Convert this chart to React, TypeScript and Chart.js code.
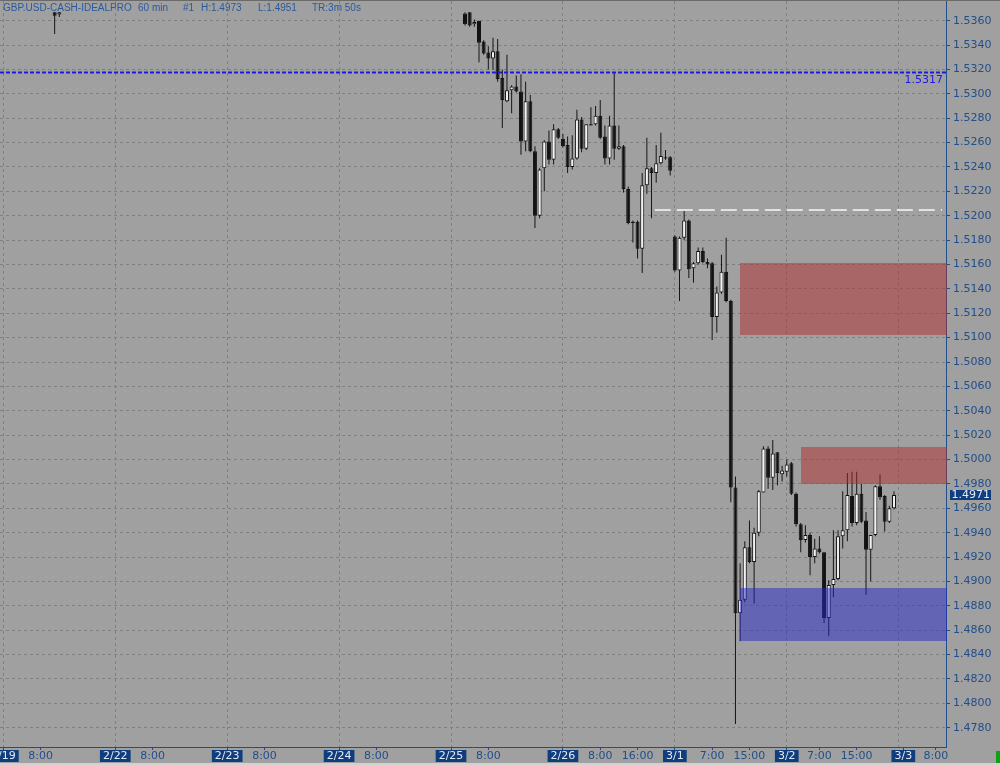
import React, { useEffect, useRef } from "react";
import { Chart, registerables } from "chart.js";

Chart.register(...registerables);

// ---- data (hourly bars, x = bar index on the time axis) ----
const candleIdx = [
  12, 13,
  100, 101, 102, 103, 104, 105, 106, 107, 108, 109,
  110, 111, 112, 113, 114, 115, 116, 117, 118, 119,
  120, 121, 122, 123, 124, 125, 126, 127, 128, 129,
  130, 131, 132, 133, 134, 135, 136, 137, 138, 139,
  140, 141, 142, 143, 144, 145, 146, 147, 148, 149,
  150, 151, 152, 153, 154, 155, 156, 157, 158, 159,
  160, 161, 162, 163, 164, 165, 166, 167, 168, 169,
  170, 171, 172, 173, 174, 175, 176, 177, 178, 179,
  180, 181, 182, 183, 184, 185, 186, 187, 188, 189,
  190, 191, 192,
];
const openP = [
  1.5367, 1.5365,
  1.5366, 1.5367, 1.5357, 1.5360, 1.5343, 1.5334, 1.5329, 1.5335, 1.5313, 1.5294,
  1.5303, 1.5306, 1.5302, 1.5261, 1.5294, 1.5253, 1.5200, 1.5239, 1.5261, 1.5246,
  1.5271, 1.5263, 1.5258, 1.5240, 1.5247, 1.5279, 1.5255, 1.5274, 1.5275, 1.5282,
  1.5265, 1.5247, 1.5274, 1.5255, 1.5257, 1.5222, 1.5195, 1.5195, 1.5173, 1.5225,
  1.5239, 1.5235, 1.5243, 1.5247, 1.5248, 1.5183, 1.5155, 1.5182, 1.5196, 1.5157,
  1.5161, 1.5171, 1.5162, 1.5161, 1.5117, 1.5137, 1.5154, 1.5130, 1.4977, 1.4874,
  1.4885, 1.4928, 1.4916, 1.4940, 1.4973, 1.5009, 1.4985, 1.5006, 1.4988, 1.4990,
  1.4997, 1.4972, 1.4947, 1.4934, 1.4938, 1.4920, 1.4927, 1.4924, 1.4870, 1.4897,
  1.4902, 1.4937, 1.4942, 1.4970, 1.4948, 1.4972, 1.4950, 1.4926, 1.4938, 1.4978,
  1.4970, 1.4949, 1.4960,
];
const highP = [
  1.5367, 1.5367,
  1.5367, 1.5367, 1.5361, 1.5360, 1.5344, 1.5339, 1.5346, 1.5345, 1.5320, 1.5332,
  1.5307, 1.5315, 1.5316, 1.5310, 1.5299, 1.5257, 1.5239, 1.5262, 1.5270, 1.5275,
  1.5272, 1.5267, 1.5265, 1.5266, 1.5287, 1.5281, 1.5275, 1.5289, 1.5290, 1.5295,
  1.5274, 1.5282, 1.5317, 1.5274, 1.5258, 1.5224, 1.5196, 1.5196, 1.5235, 1.5264,
  1.5240, 1.5258, 1.5268, 1.5254, 1.5249, 1.5184, 1.5183, 1.5205, 1.5197, 1.5162,
  1.5174, 1.5174, 1.5165, 1.5162, 1.5142, 1.5168, 1.5182, 1.5131, 1.4986, 1.4915,
  1.4933, 1.4950, 1.4944, 1.4975, 1.5011, 1.5011, 1.5016, 1.5006, 1.4995, 1.5000,
  1.4998, 1.4973, 1.4948, 1.4946, 1.4940, 1.4935, 1.4937, 1.4924, 1.4901, 1.4942,
  1.4942, 1.4974, 1.4989, 1.4990, 1.4990, 1.4980, 1.4957, 1.4938, 1.4979, 1.4988,
  1.4971, 1.4962, 1.4974,
];
const lowP = [
  1.5349, 1.5363,
  1.5356, 1.5355, 1.5355, 1.5326, 1.5332, 1.5320, 1.5320, 1.5310, 1.5272, 1.5293,
  1.5284, 1.5301, 1.5250, 1.5253, 1.5252, 1.5190, 1.5198, 1.5220, 1.5242, 1.5242,
  1.5263, 1.5256, 1.5235, 1.5238, 1.5246, 1.5252, 1.5254, 1.5274, 1.5274, 1.5263,
  1.5242, 1.5242, 1.5246, 1.5254, 1.5219, 1.5193, 1.5178, 1.5165, 1.5153, 1.5218,
  1.5198, 1.5227, 1.5242, 1.5246, 1.5233, 1.5154, 1.5130, 1.5180, 1.5149, 1.5145,
  1.5160, 1.5161, 1.5157, 1.5098, 1.5104, 1.5136, 1.5129, 1.4965, 1.4783, 1.4851,
  1.4883, 1.4915, 1.4882, 1.4937, 1.4973, 1.4976, 1.4975, 1.4979, 1.4982, 1.4986,
  1.4971, 1.4945, 1.4924, 1.4932, 1.4905, 1.4915, 1.4923, 1.4866, 1.4855, 1.4887,
  1.4901, 1.4927, 1.4933, 1.4945, 1.4946, 1.4948, 1.4889, 1.4900, 1.4937, 1.4967,
  1.4941, 1.4948, 1.4959,
];
const closeP = [
  1.5364, 1.5367,
  1.5357, 1.5356, 1.5359, 1.5342, 1.5333, 1.5329, 1.5335, 1.5312, 1.5295, 1.5303,
  1.5306, 1.5302, 1.5261, 1.5294, 1.5253, 1.5200, 1.5238, 1.5261, 1.5246, 1.5271,
  1.5264, 1.5257, 1.5240, 1.5247, 1.5279, 1.5255, 1.5275, 1.5275, 1.5282, 1.5264,
  1.5247, 1.5274, 1.5255, 1.5257, 1.5222, 1.5194, 1.5194, 1.5173, 1.5225, 1.5239,
  1.5235, 1.5243, 1.5249, 1.5248, 1.5237, 1.5155, 1.5182, 1.5196, 1.5156, 1.5161,
  1.5171, 1.5162, 1.5160, 1.5117, 1.5137, 1.5154, 1.5130, 1.4977, 1.4874, 1.4885,
  1.4928, 1.4916, 1.4940, 1.4974, 1.5009, 1.4985, 1.5005, 1.4989, 1.4991, 1.4996,
  1.4972, 1.4947, 1.4934, 1.4938, 1.4920, 1.4927, 1.4924, 1.4870, 1.4897, 1.4902,
  1.4937, 1.4942, 1.4971, 1.4948, 1.4972, 1.4949, 1.4926, 1.4938, 1.4978, 1.4969,
  1.4949, 1.4960, 1.4971,
];

const yTicks = [
  1.478, 1.48, 1.482, 1.484, 1.486, 1.488, 1.49, 1.492, 1.494, 1.496,
  1.498, 1.5, 1.502, 1.504, 1.506, 1.508, 1.51, 1.512, 1.514, 1.516,
  1.518, 1.52, 1.522, 1.524, 1.526, 1.528, 1.53, 1.532, 1.534, 1.536,
];
const xTickIdx = [1, 9, 25, 33, 49, 57, 73, 81, 97, 105, 121, 129, 137, 145, 153, 161, 169, 176, 184, 193, 194, 201];
const xTickLabels = ["2/19", "8:00", "2/22", "8:00", "2/23", "8:00", "2/24", "8:00", "2/25", "8:00", "2/26", "8:00", "16:00", "3/1", "7:00", "15:00", "3/2", "7:00", "15:00", "", "3/3", "8:00"];
const dayLineIdx = [1, 25, 49, 73, 97, 121, 145, 169, 193];

// supply / demand zones
const zoneStart = [159, 172, 159];
const zoneHigh = [1.5161, 1.501, 1.4895];
const zoneLow = [1.5102, 1.498, 1.4851];
const zoneKind = ["supply", "supply", "demand"];

// horizontal levels
const levelValue = [1.5317, 1.5205];
const levelStart = [0.28, 140.7];
const levelKind = ["alert", "marker"];

const titleParts = ["GBP.USD-CASH-IDEALPRO", "60 min", "#1", "H:1.4973", "L:1.4951", "TR:3m 50s"];
const lastPrice = 1.4971;

// ---- view ----
const X_MIN = 0.28;
const X_MAX = 203.15;
const Y_MIN = 1.476418;
const Y_MAX = 1.537616;

const BG = "#a0a0a0";
const GRID = "#808080";
const AXIS = "#1f4e8c";
const LABEL = "#224e8a";
const FONT = "DejaVu Sans";
const TITLE_X = [3, 138, 183, 201, 258, 312];

const labelOf = (v: number) => {
  const i = xTickIdx.indexOf(v);
  return i >= 0 ? xTickLabels[i] : "";
};
const isDate = (v: number) => labelOf(v).indexOf("/") >= 0;

const decorPlugin = {
  id: "decor",
  beforeDraw(chart: any) {
    const { ctx, width, height } = chart;
    ctx.save();
    ctx.fillStyle = BG;
    ctx.fillRect(0, 0, width, height);
    ctx.restore();
  },
  afterDatasetsDraw(chart: any) {
    const { ctx, chartArea: ca, scales } = chart;
    const xs = scales.x;
    const ys = scales.y;
    ctx.save();
    ctx.beginPath();
    ctx.rect(ca.left, ca.top, ca.right - ca.left + 2, ca.bottom - ca.top);
    ctx.clip();
    for (let i = 0; i < zoneStart.length; i++) {
      const x0 = Math.round(xs.getPixelForValue(zoneStart[i]));
      const y0 = Math.round(ys.getPixelForValue(zoneHigh[i]));
      const y1 = Math.round(ys.getPixelForValue(zoneLow[i]));
      ctx.fillStyle = zoneKind[i] === "supply" ? "rgba(178,44,44,0.5)" : "rgba(40,40,200,0.5)";
      ctx.fillRect(x0, y0, ca.right + 1 - x0, y1 - y0);
    }
    for (let i = 0; i < levelValue.length; i++) {
      const py = Math.round(ys.getPixelForValue(levelValue[i]));
      const x0 = xs.getPixelForValue(levelStart[i]);
      ctx.beginPath();
      if (levelKind[i] === "alert") {
        ctx.setLineDash([4, 2]);
        ctx.lineWidth = 2;
        ctx.strokeStyle = "#1a1ae6";
        ctx.moveTo(x0, py - 0.5);
        ctx.lineTo(ca.right, py - 0.5);
      } else {
        ctx.setLineDash([16, 6]);
        ctx.lineWidth = 2;
        ctx.strokeStyle = "#e2e2e2";
        ctx.moveTo(x0, py);
        ctx.lineTo(ca.right - 4, py);
      }
      ctx.stroke();
    }
    ctx.restore();
    // alert level label
    ctx.save();
    ctx.font = `11px "${FONT}"`;
    ctx.fillStyle = "#1a1ae6";
    ctx.textAlign = "right";
    ctx.textBaseline = "alphabetic";
    ctx.fillText(levelValue[0].toFixed(4), ca.right - 3, ys.getPixelForValue(levelValue[0]) + 10);
    ctx.restore();
  },
  afterDraw(chart: any) {
    const { ctx, chartArea: ca, scales, width } = chart;
    const ys = scales.y;
    ctx.save();
    // top frame line
    ctx.fillStyle = "#6a6a6a";
    ctx.fillRect(0, 0, width, 1);
    // title
    ctx.font = `10px "Liberation Sans"`;
    ctx.fillStyle = "#2a5a9e";
    ctx.textAlign = "left";
    ctx.textBaseline = "alphabetic";
    titleParts.forEach((t, i) => ctx.fillText(t, TITLE_X[i], 10.5));
    // current price tag
    const py = ys.getPixelForValue(lastPrice);
    ctx.fillStyle = "#0f3d7d";
    ctx.fillRect(ca.right + 4, Math.round(py) - 5, 41, 10);
    ctx.font = `11px "${FONT}"`;
    ctx.fillStyle = "#e4ebf5";
    ctx.textBaseline = "middle";
    ctx.fillText(lastPrice.toFixed(4), ca.right + 5.5, Math.round(py) + 0.5);
    // bottom strip + status marker
    ctx.fillStyle = "#d2d2d2";
    ctx.fillRect(0, 763, width, 2);
    ctx.fillStyle = "#12a012";
    ctx.fillRect(996, 751, 4, 12);
    ctx.restore();
  },
};

export default function App() {
  const ref = useRef<HTMLCanvasElement | null>(null);

  useEffect(() => {
    const canvas = ref.current;
    if (!canvas) return;
    const bodies = candleIdx.map((x, i) => ({
      x,
      y: [Math.min(openP[i], closeP[i]), Math.max(openP[i], closeP[i])],
    }));
    const wicks = candleIdx.map((x, i) => ({ x, y: [lowP[i], highP[i]] }));
    const bodyColors = candleIdx.map((_, i) => (closeP[i] >= openP[i] ? "#f2f2f2" : "#121212"));

    const chart = new Chart(canvas, {
      type: "bar",
      data: {
        datasets: [
          {
            label: "body",
            data: bodies as any,
            backgroundColor: bodyColors,
            borderColor: "#121212",
            borderWidth: 1,
            borderSkipped: false,
            grouped: false,
            barThickness: 4,
            maxBarThickness: 4,
            inflateAmount: 0,
            order: 1,
          } as any,
          {
            label: "wick",
            data: wicks as any,
            backgroundColor: "#161616",
            borderWidth: 0,
            grouped: false,
            barThickness: 1,
            maxBarThickness: 1,
            inflateAmount: 0,
            order: 2,
          } as any,
        ],
      },
      options: {
        responsive: false,
        animation: false,
        devicePixelRatio: 1,
        events: [],
        layout: { padding: { left: 0, right: 0, top: 1, bottom: 0 } },
        plugins: {
          legend: { display: false },
          tooltip: { enabled: false },
          title: { display: false },
        },
        scales: {
          x: {
            type: "linear",
            position: "bottom",
            min: X_MIN,
            max: X_MAX,
            offset: false,
            afterBuildTicks: (s: any) => {
              s.ticks = xTickIdx.map((v) => ({ value: v }));
            },
            afterFit: (s: any) => {
              s.height = 18;
              s.paddingLeft = 0;
              s.paddingRight = 0;
            },
            grid: {
              offset: false,
              drawOnChartArea: true,
              drawTicks: true,
              tickLength: 3,
              lineWidth: 1,
              color: (c: any) => (c.tick && dayLineIdx.indexOf(c.tick.value) >= 0 ? GRID : "rgba(0,0,0,0)"),
              tickColor: (c: any) => (c.tick && labelOf(c.tick.value) ? AXIS : "rgba(0,0,0,0)"),
              tickWidth: 1,
              tickBorderDash: [],
            },
            border: { display: true, color: AXIS, width: 1, dash: [3, 3] },
            ticks: {
              autoSkip: false,
              maxRotation: 0,
              minRotation: 0,
              padding: 1,
              font: { family: FONT, size: 11, lineHeight: 1 },
              color: (c: any) => (c.tick && isDate(c.tick.value) ? "#e4ebf5" : LABEL),
              callback: (v: any) => labelOf(Number(v)),
              showLabelBackdrop: (c: any) => !!(c.tick && isDate(c.tick.value)),
              backdropColor: "#0f3d7d",
              backdropPadding: { top: 1, bottom: 0, left: 3, right: 3 },
            },
          } as any,
          y: {
            type: "linear",
            position: "right",
            min: Y_MIN,
            max: Y_MAX,
            afterBuildTicks: (s: any) => {
              s.ticks = yTicks.map((v) => ({ value: v }));
            },
            afterFit: (s: any) => {
              s.width = 54;
              s.paddingTop = 0;
              s.paddingBottom = 0;
            },
            grid: {
              color: GRID,
              lineWidth: 1,
              drawTicks: true,
              tickLength: 4,
              tickColor: AXIS,
              tickWidth: 1,
              tickBorderDash: [],
            },
            border: { display: true, color: AXIS, width: 1, dash: [3, 3] },
            ticks: {
              autoSkip: false,
              padding: 3,
              font: { family: FONT, size: 11 },
              color: LABEL,
              callback: (v: any) => Number(v).toFixed(4),
            },
          } as any,
        },
      } as any,
      plugins: [decorPlugin],
    });
    return () => chart.destroy();
  }, []);

  return (
    <div style={{ position: "fixed", left: 0, top: 0, width: 1000, height: 765, background: BG }}>
      <canvas ref={ref} width={1000} height={765} style={{ display: "block", width: 1000, height: 765 }} />
    </div>
  );
}
